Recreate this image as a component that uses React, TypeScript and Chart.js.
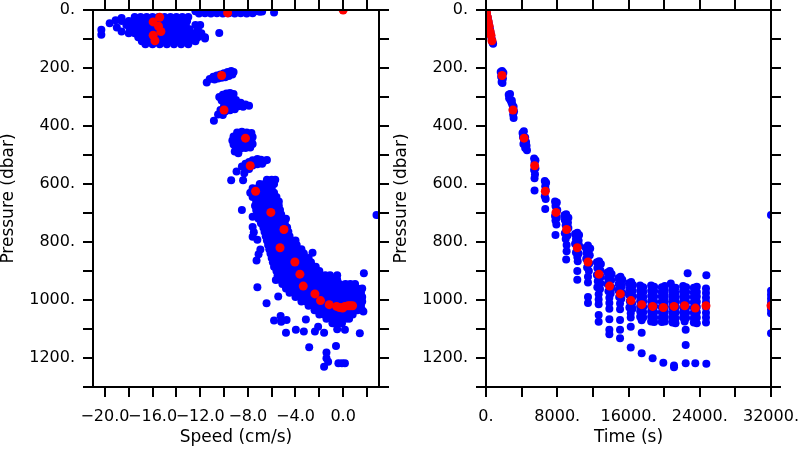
import React, { useEffect, useRef } from "react";
import { Chart, registerables } from "chart.js";

Chart.register(...registerables);

// ---------------- Red (one value per measurement cycle) ----------------
const redTime = [0, 60, 150, 260, 355, 460, 560, 670, 1800, 3030, 4270, 5460, 6660, 7860, 9050, 10250, 11450, 12690, 13880, 15080, 16280, 17480, 18710, 19910, 21110, 22300, 23500, 24700, 32000];
const redPressure = [0, 10, 25, 41, 56, 74, 87, 106, 226, 345, 442, 537, 625, 698, 757, 820, 869, 911, 952, 979, 1002, 1016, 1022, 1026, 1022, 1020, 1028, 1020, 1020];
const redSpeed = [0.0, -9.7, -15.4, -15.95, -15.5, -15.3, -15.95, -15.8, -10.2, -10.0, -8.2, -7.8, -7.35, -6.07, -4.97, -5.3, -4.05, -3.63, -3.35, -2.37, -1.9, -1.17, -0.55, -0.3, 0.14, 0.42, -0.05, 0.79, 0.6];

// ---------------- Blue, speed panel ([speed, pressure]) ----------------
const speedSurfaceBand: [number, number][] = [
  [-12.4, 4], [-11.9, 5], [-11.4, 4], [-10.9, 6], [-10.4, 4], [-9.9, 5], [-9.4, 4], [-8.9, 6], [-8.4, 4], [-7.9, 5], [-7.4, 4], [-7.0, 6], [-6.8, 5],
  [-12.1, 12], [-11.6, 11], [-11.1, 12], [-10.6, 11], [-10.1, 12], [-9.6, 11], [-9.1, 12], [-8.6, 11], [-8.1, 12], [-7.6, 11], [-5.8, 9],
];
const speedCloudRowP = [24, 38, 52, 66, 80, 94, 108, 118];
const speedCloudRowS = [
  [-17.5, -17.0, -16.5, -16.0, -15.5, -15.0, -14.5, -14.0, -13.5, -13.0],
  [-18.6, -18.0, -17.6, -17.1, -16.6, -16.1, -15.6, -15.1, -14.6, -14.1, -13.6, -13.1],
  [-18.2, -17.7, -17.2, -16.7, -16.2, -15.7, -15.2, -14.7, -14.2, -13.7, -13.2, -12.4, -12.0],
  [-17.9, -17.4, -16.9, -16.4, -15.9, -15.4, -14.9, -14.4, -13.9, -13.4, -12.9, -12.2],
  [-18.0, -17.5, -17.0, -16.5, -16.0, -15.5, -15.0, -14.5, -14.0, -13.5, -13.0, -12.5, -11.9],
  [-17.2, -16.7, -16.2, -15.7, -15.2, -14.7, -14.2, -13.7, -13.2, -12.7, -12.2, -11.6],
  [-16.9, -16.4, -15.9, -15.4, -14.9, -14.4, -13.9, -13.4, -12.9, -12.4],
  [-16.6, -16.0, -15.4, -14.8, -14.2, -13.6, -13.0],
];
const speedCloudEdge: [number, number][] = [
  [-20.3, 68], [-20.3, 85], [-19.6, 46], [-19.1, 35], [-18.6, 28], [-19.0, 60], [-18.6, 74], [-11.6, 98], [-10.4, 79],
];
const speedMidClusters: [number, number][] = [
  [-11.45, 250], [-11.2, 238], [-10.9, 230], [-10.6, 226], [-10.3, 222], [-10.0, 218], [-9.7, 214], [-9.4, 210], [-9.2, 214], [-9.3, 222], [-9.6, 228], [-9.9, 232], [-10.2, 234], [-10.5, 236], [-10.8, 240], [-10.4, 228],
  [-10.4, 300], [-10.1, 292], [-9.8, 288], [-9.5, 286], [-9.2, 290], [-10.2, 312], [-9.8, 305], [-9.4, 302], [-9.0, 310], [-8.6, 320], [-8.2, 326], [-7.9, 330], [-8.4, 334], [-8.8, 332], [-9.2, 325], [-9.6, 322], [-10.0, 330], [-10.3, 345], [-9.9, 350], [-9.5, 346], [-9.1, 342], [-10.5, 360], [-10.1, 362], [-10.85, 382],
  [-8.9, 422], [-8.5, 420], [-8.1, 422], [-7.7, 424], [-9.2, 436], [-8.8, 436], [-8.4, 434], [-7.9, 436], [-7.6, 438], [-9.3, 450], [-8.9, 450], [-8.5, 450], [-8.1, 452], [-7.7, 450], [-9.2, 464], [-8.8, 464], [-8.4, 464], [-8.0, 466], [-7.6, 462], [-9.0, 478], [-8.6, 478], [-8.2, 476], [-7.8, 474], [-9.1, 488], [-8.8, 494],
  [-8.5, 540], [-8.2, 530], [-7.9, 524], [-7.6, 518], [-7.2, 514], [-6.9, 516], [-6.6, 520], [-6.4, 517], [-6.8, 530], [-7.2, 532], [-7.6, 536], [-8.2, 545], [-7.9, 548], [-8.95, 557], [-9.4, 587], [-8.4, 587], [-8.3, 563],
];
const speedBandRowP = [585, 600, 615, 630, 645, 660, 675, 690, 705, 720, 735, 750, 765, 780, 795, 810, 825, 840, 855, 870, 885, 900, 915, 930, 945, 960, 975, 990, 1005, 1020, 1035, 1050, 1065, 1080];
const speedBandRowS = [
  [-6.4, -6.0, -5.7],
  [-7.0, -6.6, -6.2, -5.8],
  [-7.6, -7.2, -6.8, -6.4, -6.0],
  [-7.8, -7.4, -7.0, -6.6, -6.2, -5.8],
  [-7.6, -7.2, -6.8, -6.4, -6.0, -5.6],
  [-7.3, -6.9, -6.5, -6.1, -5.7, -5.4],
  [-7.4, -7.0, -6.6, -6.2, -5.8, -5.4],
  [-7.3, -6.9, -6.5, -6.1, -5.7, -5.3],
  [-7.2, -6.8, -6.4, -6.0, -5.6, -5.2],
  [-7.1, -6.7, -6.3, -5.9, -5.5, -5.1, -4.8],
  [-6.9, -6.5, -6.1, -5.7, -5.3, -4.9],
  [-6.7, -6.3, -5.9, -5.5, -5.1, -4.7],
  [-6.6, -6.2, -5.8, -5.4, -5.0, -4.6],
  [-6.5, -6.1, -5.7, -5.3, -4.9, -4.5],
  [-6.4, -6.0, -5.6, -5.2, -4.8, -4.4, -4.0],
  [-6.3, -5.9, -5.5, -5.1, -4.7, -4.3, -3.9],
  [-6.2, -5.8, -5.4, -5.0, -4.6, -4.2, -3.8, -3.5],
  [-6.1, -5.7, -5.3, -4.9, -4.5, -4.1, -3.7, -3.3],
  [-6.0, -5.6, -5.2, -4.8, -4.4, -4.0, -3.6, -3.2, -2.9],
  [-5.9, -5.5, -5.1, -4.7, -4.3, -3.9, -3.5, -3.1, -2.7],
  [-5.8, -5.4, -5.0, -4.6, -4.2, -3.8, -3.4, -3.0, -2.6, -2.3],
  [-5.6, -5.2, -4.8, -4.4, -4.0, -3.6, -3.2, -2.8, -2.4, -2.0],
  [-5.5, -5.1, -4.7, -4.3, -3.9, -3.5, -3.1, -2.7, -2.3, -1.9, -1.5, -1.1],
  [-5.3, -4.9, -4.5, -4.1, -3.7, -3.3, -2.9, -2.5, -2.1, -1.7, -1.3, -0.9, -0.5],
  [-5.1, -4.7, -4.3, -3.9, -3.5, -3.1, -2.7, -2.3, -1.9, -1.5, -1.1, -0.7, -0.3, 0.2, 0.6, 1.0],
  [-4.8, -4.4, -4.0, -3.6, -3.2, -2.8, -2.4, -2.0, -1.6, -1.2, -0.8, -0.4, 0.0, 0.4, 0.8, 1.2, 1.6],
  [-4.5, -4.1, -3.7, -3.3, -2.9, -2.5, -2.1, -1.7, -1.3, -0.9, -0.5, -0.1, 0.3, 0.7, 1.1, 1.5],
  [-4.0, -3.6, -3.2, -2.8, -2.4, -2.0, -1.6, -1.2, -0.8, -0.4, 0.0, 0.4, 0.8, 1.2, 1.6],
  [-3.5, -3.1, -2.7, -2.3, -1.9, -1.5, -1.1, -0.7, -0.3, 0.1, 0.5, 0.9, 1.3, 1.6],
  [-2.9, -2.5, -2.1, -1.7, -1.3, -0.9, -0.5, -0.1, 0.3, 0.7, 1.1, 1.5],
  [-2.4, -2.0, -1.6, -1.2, -0.8, -0.4, 0.0, 0.4, 0.8, 1.2, 1.6],
  [-2.0, -1.6, -1.2, -0.8, -0.4, 0.0, 0.4, 0.8],
  [-1.4, -1.0, -0.6, -0.2, 0.2, 0.5],
  [-0.9, -0.5, -0.1],
];
const speedOutliers: [number, number][] = [
  [-8.5, 690], [-7.6, 713], [-7.6, 748], [-7.5, 766], [-7.6, 782], [-7.2, 792], [-6.95, 826], [-7.1, 842], [-7.27, 864], [-7.2, 956],
  [-6.43, 1011], [-5.65, 931], [-5.45, 988], [-5.8, 1071], [-5.25, 1055], [-5.2, 1075], [-4.75, 1069], [-4.8, 1113], [-3.97, 1103],
  [-3.3, 1109], [-3.13, 1067], [-2.85, 1163], [-2.37, 1109], [-2.1, 1092], [-1.6, 1113], [-1.4, 1181], [-1.4, 1201], [-1.26, 1213],
  [-1.6, 1230], [-0.6, 1159], [-0.5, 1101], [-0.4, 1218], [-0.1, 1218], [0.15, 1218], [0.15, 1103], [1.4, 1115], [1.74, 908],
  [1.7, 1040], [2.8, 707], [-2.57, 837], [-0.5, 915],
];

// ---------------- Blue, time panel ([time, pressure]) ----------------
const timeDescent: [number, number][] = [
  [40, 4], [120, 14], [200, 26], [270, 38], [340, 49], [410, 60], [470, 70], [530, 80], [580, 89], [630, 98], [680, 106], [730, 112], [800, 116],
];
const timeUpperStations: [number, number][] = [
  [1650, 214], [1800, 210], [1950, 216], [1700, 230], [1900, 236], [1750, 248], [1850, 252],
  [2550, 292], [2700, 290], [2600, 304], [2750, 310], [2850, 318], [2950, 326], [3100, 334], [3000, 344], [3150, 350], [3050, 360], [3100, 372], [2900, 312],
  [4100, 424], [4250, 418], [4150, 438], [4400, 440], [4300, 452], [4500, 455], [4550, 468], [4400, 476], [4600, 484], [4200, 462],
  [5400, 512], [5550, 518], [5450, 528], [5550, 546], [5400, 552], [5500, 566], [5450, 580], [5450, 622],
  [6600, 590], [6750, 596], [6650, 608], [6700, 620], [6600, 642], [6700, 652], [6650, 686],
  [7750, 660], [7950, 664], [7800, 676], [8000, 690], [7750, 710], [7950, 716], [7800, 726], [7900, 740], [7800, 776],
];
const timeMidStations: [number, number][] = [
  [8800, 708], [9000, 704], [9250, 716], [8850, 724], [9200, 734], [8950, 742], [9250, 752], [8850, 770], [9150, 778], [8950, 790], [9050, 810], [9050, 832], [9000, 860],
  [10000, 772], [10250, 768], [10450, 776], [10100, 790], [10400, 796], [10000, 806], [10450, 812], [10100, 836], [10400, 840], [10250, 852], [10300, 866], [10250, 900], [10250, 930],
  [11200, 820], [11450, 812], [11700, 822], [11300, 838], [11650, 846], [11250, 858], [11600, 874], [11350, 888], [11550, 900], [11450, 920], [11450, 940], [11450, 990], [11450, 1010],
  [12450, 870], [12700, 866], [12900, 876], [12500, 890], [12850, 898], [12450, 914], [12900, 920], [12550, 935], [12850, 942], [12500, 956], [12800, 962], [12650, 980], [12650, 998], [12650, 1015], [12650, 1052], [12650, 1075],
  [13650, 905], [13900, 900], [14100, 910], [13700, 925], [14050, 932], [13650, 945], [14100, 958], [13750, 970], [14000, 978], [13850, 992], [13850, 1010], [13850, 1030], [13850, 1066], [13850, 1103], [13850, 1118],
  [14850, 925], [15100, 920], [15300, 930], [14900, 945], [15250, 952], [14850, 966], [15300, 975], [14950, 990], [15200, 996], [15050, 1012], [15050, 1032], [15050, 1069], [15050, 1103], [15050, 1132],
  [16050, 942], [16300, 938], [16500, 948], [16100, 962], [16450, 968], [16050, 982], [16500, 988], [16150, 1004], [16400, 1012], [16100, 1026], [16450, 1030], [16250, 1046], [16250, 1060], [16250, 1092], [16250, 1164],
];
const timeBottomStations: [number, number][] = [
  [17310, 950], [17650, 956], [17310, 968], [17650, 972], [17310, 986], [17650, 990], [17310, 1004], [17650, 1006], [17310, 1022], [17650, 1024], [17310, 1040], [17650, 1042], [17310, 1058], [17650, 1060], [17480, 1070], [17480, 1113], [17480, 1184],
  [18540, 950], [18880, 954], [18540, 968], [18880, 970], [18540, 986], [18880, 988], [18540, 1004], [18880, 1006], [18540, 1022], [18880, 1022], [18540, 1040], [18880, 1042], [18540, 1058], [18880, 1060], [18540, 1074], [18880, 1076], [18710, 1201],
  [19740, 956], [20080, 952], [19740, 972], [20080, 968], [19740, 988], [20080, 986], [19740, 1006], [20080, 1004], [19740, 1024], [20080, 1022], [19740, 1042], [20080, 1040], [19740, 1060], [20080, 1058], [19740, 1076], [20080, 1074], [19910, 1216],
  [20750, 943], [20940, 962], [21280, 958], [20940, 978], [21280, 976], [20940, 994], [21280, 992], [20940, 1010], [21280, 1008], [20940, 1028], [21280, 1026], [20940, 1046], [21280, 1044], [20940, 1062], [21280, 1064], [20940, 1078], [21280, 1080], [21110, 1226], [21110, 1232],
  [22640, 908], [22130, 952], [22470, 956], [22130, 970], [22470, 972], [22130, 988], [22470, 990], [22130, 1006], [22470, 1008], [22130, 1024], [22470, 1026], [22130, 1042], [22470, 1044], [22130, 1060], [22470, 1062], [22300, 1074], [22420, 1103], [22420, 1155], [22420, 1218],
  [23330, 958], [23670, 954], [23330, 974], [23670, 972], [23330, 990], [23670, 988], [23330, 1008], [23670, 1006], [23330, 1026], [23670, 1024], [23330, 1044], [23670, 1042], [23330, 1062], [23670, 1060], [23330, 1078], [23670, 1080], [23500, 1218],
  [24740, 915], [24700, 960], [24700, 976], [24700, 992], [24700, 1008], [24700, 1026], [24700, 1044], [24700, 1060], [24700, 1078], [24740, 1220],
  [32000, 707], [32000, 968], [32000, 982], [32000, 996], [32000, 1010], [32000, 1032], [32000, 1046], [32000, 1115],
];

// ---------------- axis ticks ----------------
const speedRange = [-21, 3.01];
const speedTickStep = 2;
const speedLabelStep = 4;
const timeRange = [0, 32000];
const timeTickStep = 4000;
const timeLabelStep = 8000;
const pressureRange = [0, 1300];
const pressureTickStep = 100;
const pressureLabelStep = 200;

const FONT = "'DejaVu Sans', sans-serif";

const pairsToXY = (pairs: [number, number][]) => pairs.map(([x, y]) => ({ x, y }));
const rowsToXY = (ps: number[], rows: number[][]) => {
  const out: { x: number; y: number }[] = [];
  rows.forEach((row, i) => row.forEach((s) => out.push({ x: s, y: ps[i] })));
  return out;
};

const speedLabel = (v: number) => (v < 0 ? "\u2212" : "") + Math.abs(v).toFixed(1);
const dotLabel = (v: number) => `${v}.`;

function panelConfig(p: any) {
  const grid = { drawOnChartArea: false, drawTicks: true, tickLength: 10, color: "#000", lineWidth: 2 };
  const border = { display: true, color: "#000", width: 2, z: 1 };
  const tickFont = { family: FONT, size: 16, lineHeight: 1.2 };
  const titleFont = { family: FONT, size: 17, lineHeight: 1 };
  return {
    type: "scatter",
    data: {
      datasets: [
        { data: p.red, backgroundColor: "#ff0000", borderWidth: 0, pointRadius: 4.5, pointHoverRadius: 4.5, clip: 0 },
        { data: p.blue, backgroundColor: "#0000ff", borderWidth: 0, pointRadius: 4, pointHoverRadius: 4, clip: 0 },
      ],
    },
    options: {
      responsive: false,
      animation: false,
      events: [],
      layout: { padding: 0 },
      plugins: { legend: { display: false }, tooltip: { enabled: false } },
      scales: {
        x: {
          type: "linear", position: "bottom", min: p.xRange[0], max: p.xRange[1],
          grid, border,
          ticks: {
            stepSize: p.xStep, includeBounds: false, autoSkip: false, maxRotation: 0, minRotation: 0,
            padding: 10, color: "#000", font: tickFont,
            callback: (v: number) => (Math.abs(v % p.xLabelStep) < 1e-9 ? p.fmt(v) : ""),
          },
          title: { display: true, text: p.xTitle, color: "#000", font: titleFont, padding: { top: 0, bottom: 3.5 } },
          afterFit: (s: any) => { s.height = 63; s.paddingLeft = 0; s.paddingRight = 0; },
        },
        x2: {
          type: "linear", position: "top", min: p.xRange[0], max: p.xRange[1],
          grid, border,
          ticks: { stepSize: p.xStep, includeBounds: false, autoSkip: false, display: false },
          afterFit: (s: any) => { s.height = 10; s.paddingLeft = 0; s.paddingRight = 0; },
        },
        y: {
          type: "linear", position: "left", reverse: true, min: pressureRange[0], max: pressureRange[1],
          grid, border,
          ticks: {
            stepSize: pressureTickStep, includeBounds: false, autoSkip: false,
            padding: 8, color: "#000", font: tickFont,
            callback: (v: number) => (v % pressureLabelStep === 0 ? dotLabel(v) : ""),
          },
          title: { display: true, text: "Pressure (dbar)", color: "#000", font: titleFont, padding: { top: 0, bottom: 0 } },
          afterFit: (s: any) => { s.width = 93; s.paddingTop = 0; s.paddingBottom = 0; },
        },
        y2: {
          type: "linear", position: "right", reverse: true, min: pressureRange[0], max: pressureRange[1],
          grid, border,
          ticks: { stepSize: pressureTickStep, includeBounds: false, autoSkip: false, display: false },
          afterFit: (s: any) => { s.width = p.rightMargin; s.paddingTop = 0; s.paddingBottom = 0; },
        },
      },
    },
  };
}

export default function App() {
  const leftRef = useRef<HTMLCanvasElement>(null);
  const rightRef = useRef<HTMLCanvasElement>(null);

  useEffect(() => {
    Chart.defaults.font.family = FONT;
    const redSpeedPts = redSpeed.map((s, i) => ({ x: s, y: redPressure[i] }));
    const redTimePts = redTime.map((t, i) => ({ x: t, y: redPressure[i] }));
    const blueSpeedPts = [
      ...pairsToXY(speedSurfaceBand),
      ...rowsToXY(speedCloudRowP, speedCloudRowS),
      ...pairsToXY(speedCloudEdge),
      ...pairsToXY(speedMidClusters),
      ...rowsToXY(speedBandRowP, speedBandRowS),
      ...pairsToXY(speedOutliers),
    ];
    const blueTimePts = [
      ...pairsToXY(timeDescent),
      ...pairsToXY(timeUpperStations),
      ...pairsToXY(timeMidStations),
      ...pairsToXY(timeBottomStations),
    ];
    const left = new Chart(leftRef.current as HTMLCanvasElement, panelConfig({
      red: redSpeedPts, blue: blueSpeedPts, xRange: speedRange, xStep: speedTickStep,
      xLabelStep: speedLabelStep, fmt: speedLabel, xTitle: "Speed (cm/s)", rightMargin: 400 - 93 - 286,
    }) as any);
    const right = new Chart(rightRef.current as HTMLCanvasElement, panelConfig({
      red: redTimePts, blue: blueTimePts, xRange: timeRange, xStep: timeTickStep,
      xLabelStep: timeLabelStep, fmt: dotLabel, xTitle: "Time (s)", rightMargin: 407 - 93 - 285,
    }) as any);
    return () => { left.destroy(); right.destroy(); };
  }, []);

  return (
    <div style={{ position: "absolute", left: 0, top: 0, width: 800, height: 450, background: "#fff", overflow: "hidden" }}>
      <canvas ref={leftRef} width={400} height={450} style={{ position: "absolute", left: 0, top: 0 }} />
      <canvas ref={rightRef} width={407} height={450} style={{ position: "absolute", left: 393, top: 0 }} />
    </div>
  );
}
